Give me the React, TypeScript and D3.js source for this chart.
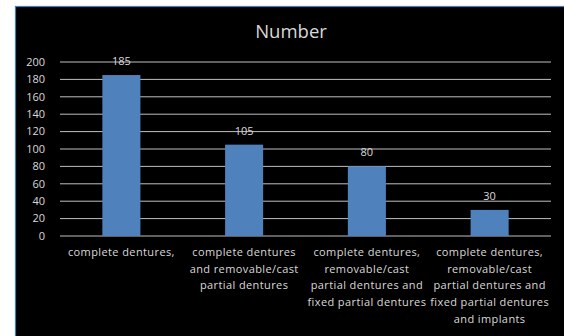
import React from "react";
import * as d3 from "d3";

const categories: string[][] = [
  ["complete dentures,"],
  ["complete dentures", "and removable/cast", "partial dentures"],
  ["complete dentures,", "removable/cast", "partial dentures and", "fixed partial dentures"],
  ["complete dentures,", "removable/cast", "partial dentures and", "fixed partial dentures", "and implants"],
];
const values: number[] = [185, 105, 80, 30];
const yTicks: number[] = [0, 20, 40, 60, 80, 100, 120, 140, 160, 180, 200];
const title = "Number";

const W = 564;
const H = 336;
const font = "'Open Sans', sans-serif";
const textColor = "#d9d9d9";

export default function App() {
  const plot = { left: 60, right: 551, top: 62, bottom: 236 };
  const x = d3
    .scaleBand<number>()
    .domain(values.map((_, i) => i))
    .range([plot.left, plot.right])
    .paddingInner(0.69)
    .paddingOuter(0.345);
  const y = d3.scaleLinear().domain([0, 200]).range([plot.bottom, plot.top]);

  return (
    <div style={{ position: "absolute", left: 0, top: 0 }}>
      <svg width={W} height={H} style={{ display: "block", background: "#fff" }}>
        <rect x={15.5} y={6.5} width={W} height={H} fill="#000" stroke="#4a7ab8" strokeWidth={1.2} />
        <text x={291} y={38} textAnchor="middle" fill={textColor} fontFamily={font} fontSize={18.5}>
          {title}
        </text>
        {yTicks.map((t) => (
          <g key={t}>
            <line x1={plot.left} x2={plot.right} y1={y(t)} y2={y(t)} stroke="#bfbfbf" strokeWidth={1} />
            <text x={45} y={y(t)} dy="0.35em" textAnchor="end" fill={textColor} fontFamily={font} fontSize={11}>
              {t}
            </text>
          </g>
        ))}
        {values.map((v, i) => (
          <g key={i}>
            <rect x={x(i)} y={y(v)} width={x.bandwidth()} height={y(0) - y(v)} fill="#4f81bd" />
            <text
              x={(x(i) as number) + x.bandwidth() / 2}
              y={y(v) - 10}
              textAnchor="middle"
              fill={textColor}
              fontFamily={font}
              fontSize={11}
            >
              {v}
            </text>
          </g>
        ))}
        {categories.map((lines, i) => (
          <text
            key={i}
            x={(x(i) as number) + x.bandwidth() / 2}
            y={256}
            textAnchor="middle"
            fill={textColor}
            fontFamily={font}
            fontSize={11}
            letterSpacing={0.4}
          >
            {lines.map((l, j) => (
              <tspan key={j} x={(x(i) as number) + x.bandwidth() / 2} dy={j === 0 ? 0 : 16.7}>
                {l}
              </tspan>
            ))}
          </text>
        ))}
      </svg>
    </div>
  );
}
